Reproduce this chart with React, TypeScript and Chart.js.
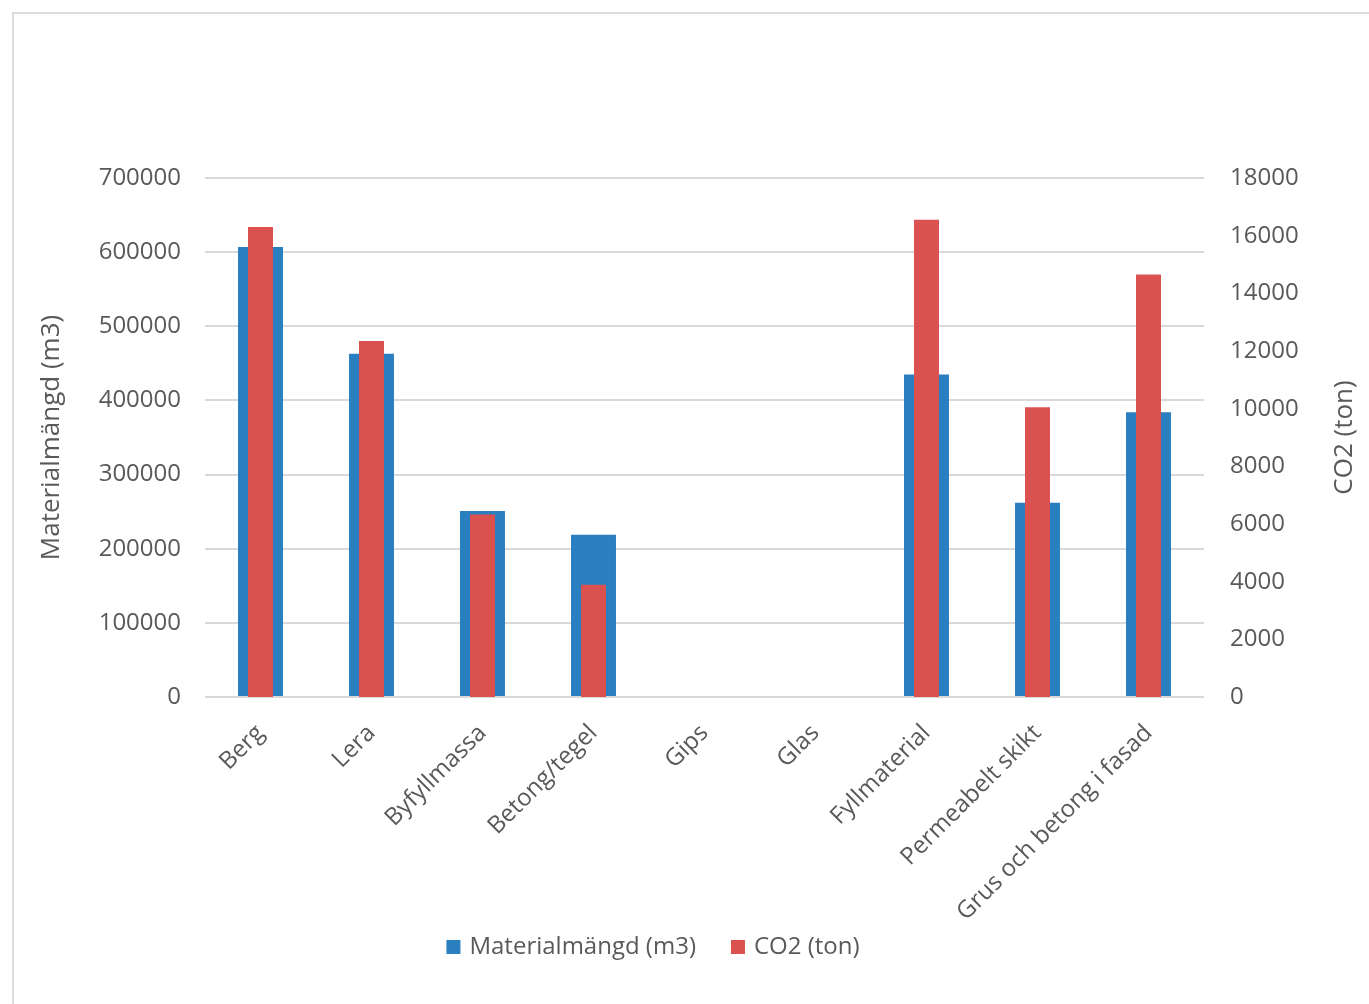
import React, { useEffect, useRef } from "react";
import { Chart, registerables } from "chart.js";

Chart.register(...registerables);

const categories = [
  "Berg",
  "Lera",
  "Byfyllmassa",
  "Betong/tegel",
  "Gips",
  "Glas",
  "Fyllmaterial",
  "Permeabelt skikt",
  "Grus och betong i fasad",
];

// Material volume (m3), left axis
const materialVolume = [607000, 463000, 251000, 219000, 0, 0, 435000, 262000, 384000];

// CO2 emissions (ton), right axis
const co2Tons = [16300, 12350, 6330, 3890, 0, 0, 16550, 10050, 14650];

const leftTitle = "Materialmängd (m3)";
const rightTitle = "CO2 (ton)";

const FONT = "'Open Sans', 'DejaVu Sans', sans-serif";
const TEXT = "#595959";
const BLUE = "#2a7fc0";
const RED = "#db514f";

// Right-hand axis title, reading bottom to top like the left one
const rightTitlePlugin = {
  id: "rightTitle",
  afterDraw(chart: any) {
    const { ctx, chartArea } = chart;
    ctx.save();
    ctx.font = `26px ${FONT}`;
    ctx.fillStyle = TEXT;
    ctx.textAlign = "center";
    ctx.textBaseline = "middle";
    ctx.translate(1345, (chartArea.top + chartArea.bottom) / 2);
    ctx.rotate(-Math.PI / 2);
    ctx.fillText(rightTitle, 0, 0);
    ctx.restore();
  },
};

// Legend row under the rotated category labels: square swatch + label per dataset
const legendRowPlugin = {
  id: "legendRow",
  afterDraw(chart: any) {
    const { ctx } = chart;
    const box = 14;
    const boxGap = 9;
    const itemGap = 35;
    const centerX = 653;
    const centerY = 947;
    ctx.save();
    ctx.font = `24px ${FONT}`;
    ctx.textBaseline = "middle";
    ctx.textAlign = "left";
    const items = chart.data.datasets.map((ds: any) => ({
      text: ds.label as string,
      color: ds.backgroundColor as string,
      width: ctx.measureText(ds.label).width,
    }));
    const total =
      items.reduce((s: number, it: any) => s + box + boxGap + it.width, 0) +
      itemGap * (items.length - 1);
    let x = centerX - total / 2;
    for (const it of items) {
      ctx.fillStyle = it.color;
      ctx.fillRect(x, centerY - box / 2, box, box);
      ctx.fillStyle = TEXT;
      ctx.fillText(it.text, x + box + boxGap, centerY);
      x += box + boxGap + it.width + itemGap;
    }
    ctx.restore();
  },
};

export default function App() {
  const canvasRef = useRef<HTMLCanvasElement | null>(null);

  useEffect(() => {
    if (!canvasRef.current) return;
    const chart = new Chart(canvasRef.current, {
      type: "bar",
      data: {
        labels: categories,
        datasets: [
          {
            label: leftTitle,
            data: materialVolume,
            backgroundColor: BLUE,
            yAxisID: "y",
            grouped: false,
            categoryPercentage: 1,
            barPercentage: 0.405,
            order: 1,
          },
          {
            label: rightTitle,
            data: co2Tons,
            backgroundColor: RED,
            yAxisID: "y1",
            grouped: false,
            categoryPercentage: 1,
            barPercentage: 0.225,
            order: 0,
          },
        ],
      },
      options: {
        animation: false,
        responsive: false,
        maintainAspectRatio: false,
        layout: { padding: { top: 178, left: 0, right: 0, bottom: 0 } },
        plugins: {
          tooltip: { enabled: false },
          legend: { display: false },
        },
        scales: {
          x: {
            grid: { display: false },
            border: { display: false },
            ticks: {
              autoSkip: false,
              minRotation: 45,
              maxRotation: 45,
              padding: 14,
              color: TEXT,
              font: { family: FONT, size: 24 },
            },
            afterFit(scale: any) {
              scale.height = 307;
            },
          },
          y: {
            position: "left",
            min: 0,
            max: 700000,
            border: { display: false },
            grid: { color: "#d9d9d9", lineWidth: 2, drawTicks: false },
            ticks: {
              stepSize: 100000,
              padding: 24,
              color: TEXT,
              font: { family: FONT, size: 24 },
              callback: (v: any) => String(v),
            },
            title: {
              display: true,
              text: leftTitle,
              color: TEXT,
              font: { family: FONT, size: 26 },
              padding: { top: 36, bottom: 0 },
            },
            afterFit(scale: any) {
              scale.width = 205;
            },
          },
          y1: {
            position: "right",
            min: 0,
            max: 18000,
            border: { display: false },
            grid: { display: false, drawTicks: false },
            ticks: {
              stepSize: 2000,
              padding: 26,
              color: TEXT,
              font: { family: FONT, size: 24 },
              callback: (v: any) => String(v),
            },
            afterFit(scale: any) {
              scale.width = 165;
            },
          },
        },
      },
      plugins: [rightTitlePlugin, legendRowPlugin],
    });
    return () => chart.destroy();
  }, []);

  return (
    <div
      style={{
        position: "fixed",
        left: 0,
        top: 0,
        width: 1369,
        height: 1004,
        background: "#ffffff",
        overflow: "hidden",
      }}
    >
      <div
        style={{
          position: "absolute",
          left: 12,
          top: 12,
          width: 1400,
          height: 1100,
          borderLeft: "2px solid #dcdcdc",
          borderTop: "2px solid #dcdcdc",
        }}
      />
      <canvas
        ref={canvasRef}
        width={1369}
        height={1004}
        style={{ position: "absolute", left: 0, top: 0, width: 1369, height: 1004 }}
      />
    </div>
  );
}
